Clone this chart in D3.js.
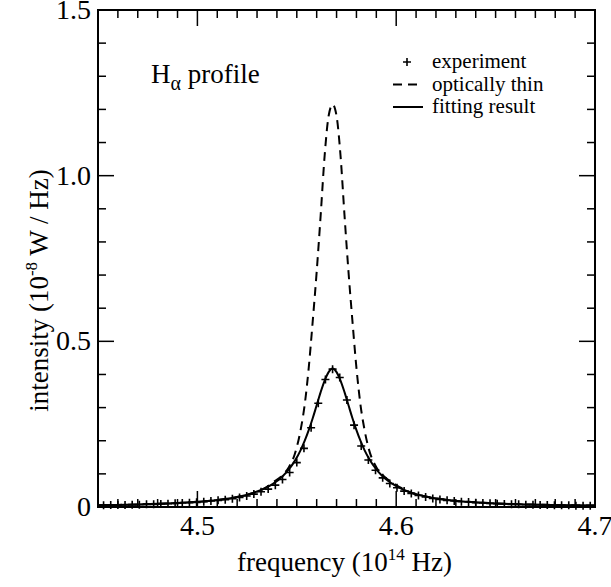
<!DOCTYPE html>
<html>
<head>
<meta charset="utf-8">
<script src="https://cdn.jsdelivr.net/npm/d3@7"></script>
<style>
  body { margin: 0; background: #fff; }
  text { font-family: "Liberation Serif", "Times New Roman", serif; fill: #000; }
</style>
</head>
<body>
<div id="chart"></div>
<script>
// Experiment points (frequency in 1e14 Hz, intensity in 1e-8 W/Hz)
const expFreq = [4.4528, 4.4564, 4.4600, 4.4636, 4.4672, 4.4708, 4.4744, 4.4780, 4.4816, 4.4852,
  4.4888, 4.4924, 4.4960, 4.4996, 4.5032, 4.5068, 4.5104, 4.5140, 4.5176, 4.5212,
  4.5248, 4.5284, 4.5320, 4.5356, 4.5392, 4.5428, 4.5464, 4.5500, 4.5536, 4.5572,
  4.5608, 4.5644, 4.5680, 4.5716, 4.5752, 4.5788, 4.5824, 4.5860, 4.5896, 4.5932,
  4.5968, 4.6004, 4.6040, 4.6076, 4.6112, 4.6148, 4.6184, 4.6220, 4.6256, 4.6292,
  4.6328, 4.6364, 4.6400, 4.6436, 4.6472, 4.6508, 4.6544, 4.6580, 4.6616, 4.6652,
  4.6688, 4.6724, 4.6760, 4.6796, 4.6832, 4.6868, 4.6904, 4.6940, 4.6976];
const expIntensity = [0.005, 0.006, 0.006, 0.006, 0.007, 0.007, 0.008, 0.008, 0.009, 0.010,
  0.011, 0.012, 0.013, 0.014, 0.016, 0.018, 0.020, 0.022, 0.025, 0.029,
  0.033, 0.039, 0.046, 0.054, 0.066, 0.083, 0.104, 0.134, 0.177, 0.239,
  0.313, 0.385, 0.416, 0.391, 0.323, 0.247, 0.184, 0.142, 0.111, 0.088,
  0.071, 0.058, 0.048, 0.041, 0.035, 0.030, 0.026, 0.023, 0.020, 0.018,
  0.016, 0.015, 0.013, 0.012, 0.011, 0.010, 0.009, 0.008, 0.008, 0.007,
  0.007, 0.006, 0.006, 0.005, 0.005, 0.005, 0.004, 0.004, 0.004];

// Curves
const curveFreq = [4.45, 4.46, 4.47, 4.48, 4.49, 4.50, 4.51, 4.52, 4.528, 4.533,
  4.538, 4.543, 4.546, 4.549, 4.552, 4.554, 4.556, 4.558, 4.560, 4.562,
  4.564, 4.566, 4.568, 4.570, 4.572, 4.574, 4.576, 4.578, 4.580, 4.582,
  4.584, 4.586, 4.590, 4.593, 4.596, 4.600, 4.604, 4.608, 4.613, 4.618,
  4.628, 4.638, 4.648, 4.658, 4.668, 4.678, 4.688, 4.70];
const thinIntensity = [0.0054, 0.0064, 0.0077, 0.0095, 0.0121, 0.0157, 0.0213, 0.0304, 0.0424, 0.0540,
  0.074, 0.097, 0.120, 0.160, 0.235, 0.31, 0.42, 0.56, 0.71, 0.88,
  1.06, 1.18, 1.215, 1.18, 1.06, 0.88, 0.71, 0.56, 0.42, 0.31,
  0.235, 0.18, 0.120, 0.097, 0.082, 0.066, 0.053, 0.0424, 0.0343, 0.0282,
  0.0200, 0.0149, 0.0115, 0.0091, 0.0074, 0.0062, 0.0052, 0.0043];
const fitIntensity = [0.0054, 0.0064, 0.0077, 0.0095, 0.0121, 0.0157, 0.0213, 0.0304, 0.0424, 0.0537,
  0.0699, 0.0937, 0.1135, 0.1392, 0.1726, 0.2000, 0.2318, 0.2679, 0.3071, 0.3466,
  0.3815, 0.4070, 0.418, 0.4070, 0.3815, 0.3466, 0.3071, 0.2679, 0.2318, 0.2000,
  0.1726, 0.1494, 0.1135, 0.0937, 0.0783, 0.0627, 0.0512, 0.0424, 0.0343, 0.0282,
  0.0200, 0.0149, 0.0115, 0.0091, 0.0074, 0.0062, 0.0052, 0.0043];

const xTickLabels = ["4.5", "4.6", "4.7"];
const yTickLabels = ["0", "0.5", "1.0", "1.5"];
const legendLabels = ["experiment", "optically thin", "fitting result"];

const margin = { top: 10, right: 16, bottom: 80, left: 98 },
      width = 497, height = 497;

const svg = d3.select("#chart")
    .append("svg")
    .attr("width", 611)
    .attr("height", 587)
    .append("g")
    .attr("transform", `translate(${margin.left},${margin.top})`);

const x = d3.scaleLinear().domain([4.45, 4.7]).range([0, width]);
const y = d3.scaleLinear().domain([0, 1.5]).range([height, 0]);

// ticks (all inward)
const xMinor = d3.range(4.45, 4.7001, 0.01);
const yMinor = d3.range(0, 1.5001, 0.1);
const isMajorX = v => Math.abs(v * 10 - Math.round(v * 10)) < 1e-6;
const isMajorY = v => Math.abs(v * 2 - Math.round(v * 2)) < 1e-6;

const ticks = svg.append("g").attr("stroke", "#000").attr("stroke-width", 1.5);
xMinor.forEach(v => {
    const len = isMajorX(v) ? 16 : 8;
    ticks.append("line").attr("x1", x(v)).attr("x2", x(v)).attr("y1", height).attr("y2", height - len);
    ticks.append("line").attr("x1", x(v)).attr("x2", x(v)).attr("y1", 0).attr("y2", len);
});
yMinor.forEach(v => {
    const len = isMajorY(v) ? 16 : 8;
    ticks.append("line").attr("x1", 0).attr("x2", len).attr("y1", y(v)).attr("y2", y(v));
    ticks.append("line").attr("x1", width).attr("x2", width - len).attr("y1", y(v)).attr("y2", y(v));
});

// tick labels
svg.selectAll(".xlab")
    .data(xTickLabels)
    .enter()
    .append("text")
    .attr("x", d => x(+d))
    .attr("y", height + 28)
    .attr("text-anchor", "middle")
    .style("font-size", "28px")
    .text(d => d);

svg.selectAll(".ylab")
    .data(yTickLabels)
    .enter()
    .append("text")
    .attr("x", -7)
    .attr("y", d => y(+d) + 9)
    .attr("text-anchor", "end")
    .style("font-size", "28px")
    .text(d => d);

// curves
const profileLine = d3.line()
    .x((d, i) => x(curveFreq[i]))
    .y(d => y(d))
    .curve(d3.curveMonotoneX);

svg.append("path")
    .datum(thinIntensity)
    .attr("fill", "none")
    .attr("stroke", "#000")
    .attr("stroke-width", 2)
    .attr("stroke-dasharray", "9,6")
    .attr("d", profileLine);

svg.append("path")
    .datum(fitIntensity)
    .attr("fill", "none")
    .attr("stroke", "#000")
    .attr("stroke-width", 2)
    .attr("d", profileLine);

// experiment markers
svg.selectAll(".pt")
    .data(expIntensity)
    .enter()
    .append("path")
    .attr("transform", (d, i) => `translate(${x(expFreq[i])},${y(d)})`)
    .attr("d", "M-4,0H4M0,-4V4")
    .attr("stroke", "#000")
    .attr("stroke-width", 1.6);

// frame
svg.append("rect")
    .attr("width", width)
    .attr("height", height)
    .attr("fill", "none")
    .attr("stroke", "#000")
    .attr("stroke-width", 2);

// axis titles
const xt = svg.append("text")
    .attr("x", width / 2 - 2)
    .attr("y", height + 64)
    .attr("text-anchor", "middle")
    .style("font-size", "27px");
xt.append("tspan").text("frequency (10");
xt.append("tspan").attr("dy", -11).style("font-size", "17px").text("14");
xt.append("tspan").attr("dy", 11).text(" Hz)");

const yt = svg.append("text")
    .attr("transform", `translate(-50,${height / 2 + 32}) rotate(-90)`)
    .attr("text-anchor", "middle")
    .style("font-size", "27px");
yt.append("tspan").text("intensity (10");
yt.append("tspan").attr("dy", -11).style("font-size", "17px").text("-8");
yt.append("tspan").attr("dy", 11).text(" W / Hz)");

// H alpha label
const ha = svg.append("text")
    .attr("x", 53)
    .attr("y", 73)
    .style("font-size", "27px");
ha.append("tspan").text("H");
ha.append("tspan").attr("dy", 7).style("font-size", "20px").text("α");
ha.append("tspan").attr("dy", -7).text(" profile");

// legend
const legend = svg.selectAll(".legend")
    .data(legendLabels)
    .enter()
    .append("g")
    .attr("transform", (d, i) => `translate(295,${52 + i * 22.5})`);

legend.append("text")
    .attr("x", 39)
    .attr("y", 6)
    .style("font-size", "21px")
    .text(d => d);

legend.filter((d, i) => i === 0).append("path")
    .attr("d", "M10,0H18M14,-4V4")
    .attr("stroke", "#000")
    .attr("stroke-width", 1.6);

legend.filter((d, i) => i === 1).append("line")
    .attr("x1", 0).attr("x2", 30).attr("y1", 0).attr("y2", 0)
    .attr("stroke", "#000").attr("stroke-width", 2)
    .attr("stroke-dasharray", "9,6");

legend.filter((d, i) => i === 2).append("line")
    .attr("x1", 0).attr("x2", 30).attr("y1", 0).attr("y2", 0)
    .attr("stroke", "#000").attr("stroke-width", 2);
</script>
</body>
</html>
